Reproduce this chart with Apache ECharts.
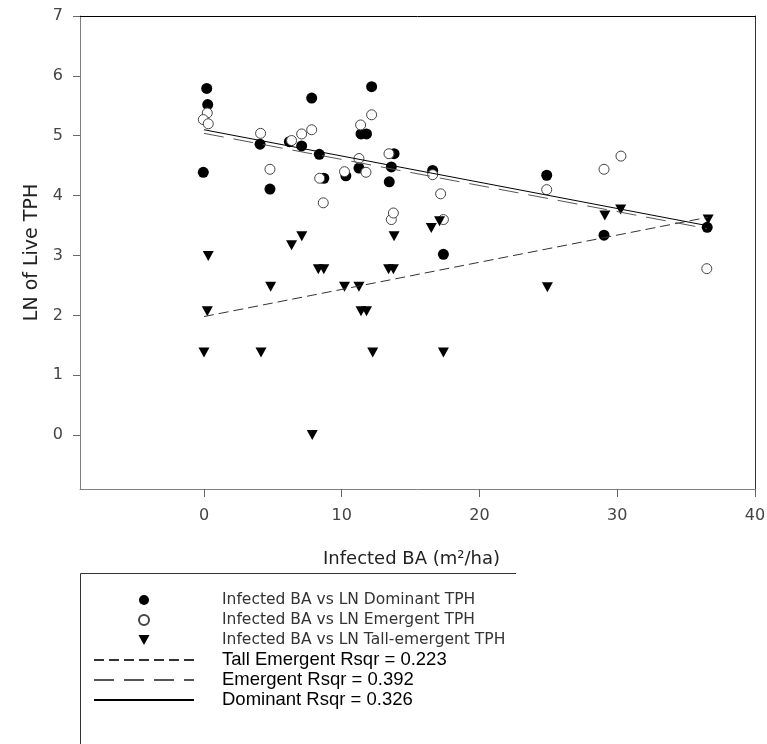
<!DOCTYPE html>
<html>
<head>
<meta charset="utf-8">
<script src="https://cdn.jsdelivr.net/npm/echarts/dist/echarts.min.js"></script>
<style>html,body{margin:0;padding:0;background:#fff}#c{width:767px;height:744px}</style>
</head>
<body>
<div id="c"></div>
<script>
// Infected BA (m2/ha) vs LN of live TPH
var dominantX = [0.2, 0.27, -0.05, 4.07, 4.79, 6.2, 7.09, 7.82, 8.37, 8.7, 10.3, 11.25, 11.4, 11.8, 12.17, 13.45, 13.6, 13.8, 16.6, 17.38, 24.88, 29.04, 36.53];
var dominantY = [5.79, 5.52, 4.39, 4.86, 4.11, 4.90, 4.83, 5.63, 4.69, 4.29, 4.33, 4.46, 5.03, 5.03, 5.82, 4.23, 4.48, 4.70, 4.42, 3.02, 4.34, 3.34, 3.47];

var emergentX = [0.24, -0.05, 0.31, 4.11, 4.79, 6.36, 7.09, 7.82, 8.4, 8.66, 10.2, 11.25, 11.37, 11.76, 12.17, 13.43, 13.6, 13.75, 16.6, 17.18, 17.38, 24.88, 29.04, 30.27, 36.5];
var emergentY = [5.38, 5.27, 5.20, 5.04, 4.44, 4.92, 5.03, 5.10, 4.29, 3.88, 4.40, 4.62, 5.18, 4.39, 5.35, 4.70, 3.60, 3.71, 4.35, 4.03, 3.60, 4.10, 4.44, 4.66, 2.78];

var tallX = [0.31, 0.24, 0, 4.14, 4.84, 6.36, 7.1, 7.86, 8.3, 8.7, 10.2, 11.25, 11.4, 11.8, 12.25, 13.4, 13.75, 13.8, 16.5, 17.1, 17.38, 24.93, 29.1, 30.25, 36.6];
var tallY = [2.99, 2.07, 1.38, 1.38, 2.48, 3.17, 3.32, 0.00, 2.77, 2.77, 2.48, 2.48, 2.07, 2.07, 1.38, 2.77, 2.77, 3.32, 3.46, 3.57, 1.38, 2.47, 3.67, 3.77, 3.60];

// regression line end points
var tallFitX = [0, 36.6];
var tallFitY = [1.98, 3.64];
var emergentFitX = [0, 36.5];
var emergentFitY = [5.04, 3.45];
var dominantFitX = [0, 36.5];
var dominantFitY = [5.10, 3.50];

var xTicks = [0, 10, 20, 30, 40];
var yTicks = [0, 1, 2, 3, 4, 5, 6, 7];

var names = [
  'Infected BA vs LN Dominant TPH',
  'Infected BA vs LN Emergent TPH',
  'Infected BA vs LN Tall-emergent TPH',
  'Tall Emergent Rsqr = 0.223',
  'Emergent Rsqr = 0.392',
  'Dominant Rsqr = 0.326'
];

function pairs(xs, ys) { return xs.map(function (x, i) { return [x, ys[i]]; }); }

var gothic = 'DejaVu Sans';
var arial = 'Liberation Sans';
var noDot = {color: 'rgba(0,0,0,0)', borderWidth: 0, opacity: 0};

var chart = echarts.init(document.getElementById('c'), null, {renderer: 'canvas'});
chart.setOption({
  animation: false,
  backgroundColor: '#fff',
  grid: {left: 80, right: 12, top: 16, bottom: 255, containLabel: false, outerBoundsMode: 'none'},
  xAxis: [{
    type: 'value', min: -9, max: 40, position: 'bottom',
    name: 'Infected BA (m²/ha)', nameLocation: 'middle', nameGap: 61,
    nameTextStyle: {fontFamily: gothic, fontSize: 18, color: '#222', padding: [0, 12, 0, 0]},
    axisLine: {show: true, onZero: false, lineStyle: {color: '#808080', width: 1}},
    axisTick: {show: true, inside: false, length: 8, customValues: xTicks, lineStyle: {color: '#666'}},
    axisLabel: {show: true, margin: 19, customValues: xTicks, fontFamily: gothic, fontSize: 16, color: '#444'},
    splitLine: {show: false}
  }, {
    type: 'value', min: -9, max: 40, position: 'top',
    axisLine: {show: true, onZero: false, lineStyle: {color: '#000', width: 1}},
    axisTick: {show: false}, axisLabel: {show: false}, splitLine: {show: false}
  }],
  yAxis: [{
    type: 'value', min: -0.9, max: 7, position: 'left',
    name: 'LN of Live TPH', nameLocation: 'middle', nameGap: 33, nameRotate: 90,
    nameTextStyle: {fontFamily: gothic, fontSize: 19, color: '#222'},
    axisLine: {show: true, onZero: false, lineStyle: {color: '#808080', width: 1}},
    axisTick: {show: true, inside: false, length: 7, customValues: yTicks, lineStyle: {color: '#666'}},
    axisLabel: {show: true, margin: 17, customValues: yTicks, fontFamily: gothic, fontSize: 16, color: '#444'},
    splitLine: {show: false}
  }, {
    type: 'value', min: -0.9, max: 7, position: 'right',
    axisLine: {show: true, onZero: false, lineStyle: {color: '#333', width: 1}},
    axisTick: {show: false}, axisLabel: {show: false}, splitLine: {show: false}
  }],
  legend: {
    orient: 'vertical', left: 93, top: 590, itemGap: 0,
    itemWidth: 100, itemHeight: 10, padding: 0,
    selectedMode: false,
    textStyle: {lineHeight: 20, padding: [0, 0, 0, 23], color: '#111'},
    data: [
      {name: names[0], textStyle: {fontFamily: gothic, fontSize: 15.5, color: '#333'}},
      {name: names[1], textStyle: {fontFamily: gothic, fontSize: 15.5, color: '#333'}},
      {name: names[2], textStyle: {fontFamily: gothic, fontSize: 15.5, color: '#333'}},
      {name: names[3], itemStyle: noDot, textStyle: {fontFamily: arial, fontSize: 18.5, color: '#000'}},
      {name: names[4], itemStyle: noDot, textStyle: {fontFamily: arial, fontSize: 18.5, color: '#000'}},
      {name: names[5], itemStyle: noDot, textStyle: {fontFamily: arial, fontSize: 18.5, color: '#000'}}
    ]
  },
  graphic: [
    {type: 'line', shape: {x1: 80.5, y1: 573.5, x2: 516, y2: 573.5}, style: {stroke: '#333', lineWidth: 1}},
    {type: 'line', shape: {x1: 80.5, y1: 573.5, x2: 80.5, y2: 744}, style: {stroke: '#333', lineWidth: 1}}
  ],
  series: [
    {
      name: names[0], type: 'scatter', data: pairs(dominantX, dominantY),
      symbol: 'circle', symbolSize: 11,
      itemStyle: {color: '#000', borderWidth: 0, opacity: 1}, z: 2
    },
    {
      name: names[1], type: 'scatter', data: pairs(emergentX, emergentY),
      symbol: 'circle', symbolSize: 10,
      itemStyle: {color: '#fff', borderColor: '#444', borderWidth: 1, opacity: 1}, z: 3
    },
    {
      name: names[2], type: 'scatter', data: pairs(tallX, tallY),
      symbol: 'path://M0,0 L10,0 L5,9 Z', symbolSize: [11, 10], symbolKeepAspect: false,
      itemStyle: {color: '#000', opacity: 1}, z: 4
    },
    {
      name: names[3], type: 'line', data: pairs(tallFitX, tallFitY),
      symbol: 'none', showSymbol: false, silent: true,
      itemStyle: noDot,
      lineStyle: {color: '#333', width: 1, type: [10, 5]}, z: 5
    },
    {
      name: names[4], type: 'line', data: pairs(emergentFitX, emergentFitY),
      symbol: 'none', showSymbol: false, silent: true,
      itemStyle: noDot,
      lineStyle: {color: '#555', width: 1, type: [20, 10]}, z: 5
    },
    {
      name: names[5], type: 'line', data: pairs(dominantFitX, dominantFitY),
      symbol: 'none', showSymbol: false, silent: true,
      itemStyle: noDot,
      lineStyle: {color: '#000', width: 1, type: 'solid'}, z: 5
    }
  ]
});
</script>
</body>
</html>
